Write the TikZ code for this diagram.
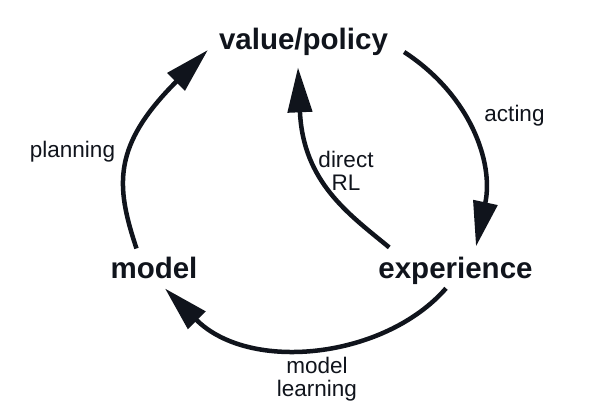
\documentclass[tikz,border=0pt]{standalone}
\usepackage{fontspec}
\setmainfont{Liberation Sans}
\usetikzlibrary{arrows.meta}
\definecolor{inkcol}{RGB}{16,20,28}

\begin{document}
\begin{tikzpicture}[x=1pt, y=-1pt,
    stage/.style={anchor=base, inner sep=0pt, text=inkcol,
      font=\fontsize{29.5}{34}\selectfont\bfseries},
    lbl/.style={inner sep=0pt, text=inkcol, align=center,
      font=\fontsize{22.5}{23}\selectfont},
    cyc/.style={draw=inkcol, line width=4.5pt,
      -{Triangle[length=45pt, width=24pt]}}]
    \useasboundingbox[fill=white] (0, 0) rectangle (602, 414);

    % the three stages
    \node[stage] (vp) at (303.5, 50) {value/policy};
    \node[stage] (exp) at (455.5, 278) {experience};
    \node[stage] (mod) at (154, 278) {model};

    % labels
    \node[lbl, anchor=base] (act) at (514.5, 122) {acting};
    \node[lbl, anchor=base] (plan) at (72.5, 158) {planning};
    \node[lbl, anchor=north] (drl) at (346, 151) {direct\\RL};
    \node[lbl, anchor=north] (mlrn) at (317, 357) {model\\learning};

    % planning: model to value/policy
    \draw[cyc] ([xshift=-17.5pt, yshift=8pt]mod.north)
      .. controls +(-21.5, -64) and +(-95, 95) .. ([xshift=-11pt]vp.base west);

    % acting: value/policy to experience
    \draw[cyc] ([xshift=16pt, yshift=-2pt]vp.base east)
      .. controls +(66, 43) and +(18, -84) .. ([xshift=20.5pt, yshift=10pt]exp.north);

    % direct RL: experience to value/policy
    \draw[cyc] ([xshift=11pt, yshift=9pt]exp.north west)
      .. controls +(-40, -33) and +(5, 115) .. ([xshift=-5.5pt, yshift=-11pt]vp.south);

    % model learning: experience to model
    \draw[cyc] ([xshift=-9.5pt, yshift=-4pt]exp.south)
      .. controls +(-61, 70) and +(85, 85) .. ([xshift=11pt, yshift=-10pt]mod.south);

\end{tikzpicture}
\end{document}
